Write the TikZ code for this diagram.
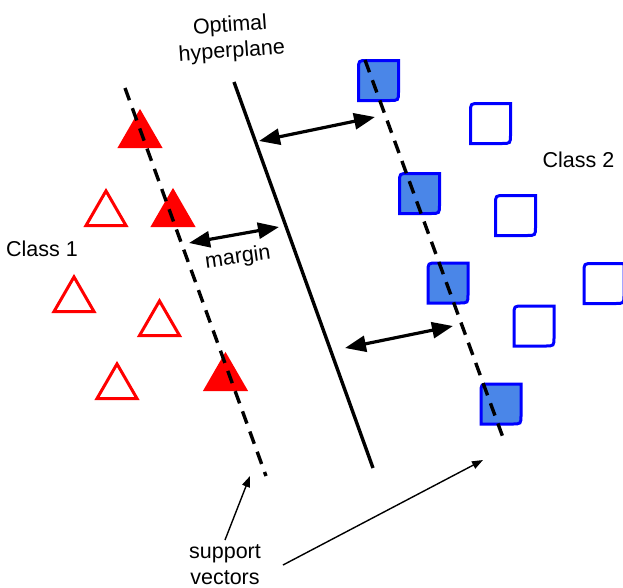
\documentclass[tikz,border=0pt]{standalone}
\usepackage{fontspec}
\setmainfont{Liberation Sans}
\usetikzlibrary{arrows.meta}
\definecolor{svmred}{RGB}{255,0,0}
\definecolor{svmblue}{RGB}{0,0,255}
\definecolor{svmfill}{RGB}{74,134,232}
% triangle centred (centroid) at #1,#2
\newcommand\trishape[3]{\draw[#3] (#1,{#2-23.1}) -- ({#1+20},{#2+11.55}) -- ({#1-20},{#2+11.55}) -- cycle;}
% square centred at #1,#2, rounded at top-left and bottom-right
\newcommand\sqshape[3]{\draw[#3] ({#1-20},{#2-11}) .. controls ({#1-20},{#2-20}) .. ({#1-11},{#2-20}) -- ({#1+20},{#2-20}) -- ({#1+20},{#2+11}) .. controls ({#1+20},{#2+20}) .. ({#1+11},{#2+20}) -- ({#1-20},{#2+20}) -- cycle;}
\begin{document}
\begin{tikzpicture}[x=1pt,y=-1pt,
  tri/.style={line width=3pt, draw=svmred},
  trifill/.style={tri, fill=svmred},
  sq/.style={line width=3pt, draw=svmblue},
  sqfill/.style={sq, fill=svmfill},
  svline/.style={line width=3.4pt, dash pattern=on 13pt off 8.5pt},
  hyper/.style={line width=3.4pt},
  marginarrow/.style={line width=3.2pt, <->, >={Triangle[length=21pt,width=16pt]}},
  ptr/.style={line width=1.4pt, ->, >={Triangle[length=11pt,width=8pt]}},
  lbl/.style={font=\fontsize{21.5}{26}\selectfont, inner sep=0pt}]
\useasboundingbox (0,0) rectangle (623,587);
% class 1 triangles
\trishape{106}{214}{tri}
\trishape{74}{300}{tri}
\trishape{159.5}{324}{tri}
\trishape{117}{387}{tri}
\trishape{140}{135}{trifill}
\trishape{173}{214}{trifill}
\trishape{225.5}{378}{trifill}
% class 2 squares
\sqshape{490.5}{123.5}{sq}
\sqshape{515.5}{215.5}{sq}
\sqshape{534}{326}{sq}
\sqshape{604}{283.5}{sq}
\sqshape{378.5}{80.5}{sqfill}
\sqshape{419.5}{193.5}{sqfill}
\sqshape{448}{283}{sqfill}
\sqshape{501}{404}{sqfill}
% lines
\coordinate (l1) at (125,88);   \coordinate (l2) at (266,476);
\coordinate (r1) at (365,60);   \coordinate (r2) at (505,443);
\coordinate (h1) at (234,82);   \coordinate (h2) at (373,468);
\draw[svline] (l1) -- (l2);
\draw[svline] (r1) -- (r2);
\draw[hyper] (h1) -- (h2);
% margin arrows
\coordinate (a1) at (259,141);  \coordinate (a2) at (375,117);
\coordinate (b1) at (189,243);  \coordinate (b2) at (279,227);
\coordinate (c1) at (345,348);  \coordinate (c2) at (453,326);
\draw[marginarrow] (a1) -- (a2);
\draw[marginarrow] (b1) -- (b2);
\draw[marginarrow] (c1) -- (c2);
% labels
\node[lbl, align=center, rotate=4] (hyp) at (231,39) {Optimal\\hyperplane};
\node[lbl, anchor=base] (cl1) at (42,256) {Class 1};
\node[lbl, anchor=base] (cl2) at (578.5,167) {Class 2};
\node[lbl, rotate=8] (mrg) at (238,258) {margin};
\node[lbl, align=center] (sv) at (225,565) {support\\vectors};
% support vector pointers
\coordinate (p1s) at (225,540); \coordinate (p1e) at (250,476);
\coordinate (p2s) at (283,565); \coordinate (p2e) at (483,460);
\draw[ptr] (p1s) -- (p1e);
\draw[ptr] (p2s) -- (p2e);
\end{tikzpicture}
\end{document}
